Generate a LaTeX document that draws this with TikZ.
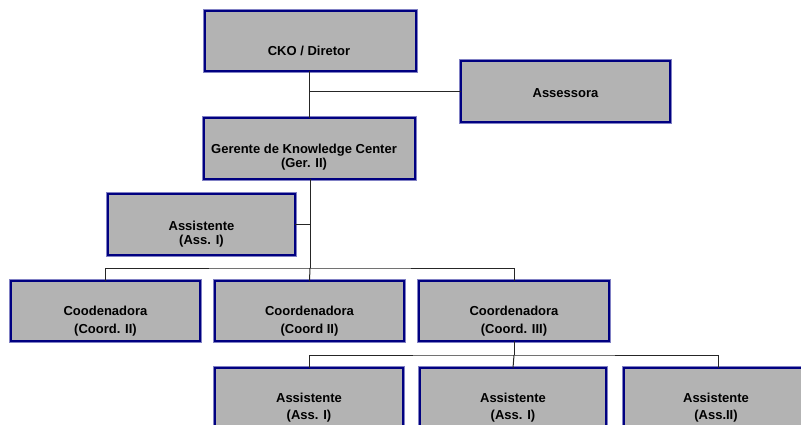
\documentclass[tikz,border=0pt]{standalone}
\usepackage{fontspec}
\setmainfont{Liberation Sans}
\definecolor{boxgray}{RGB}{179,179,179}
\definecolor{navyc}{RGB}{0,0,128}
\definecolor{lightnavy}{RGB}{128,128,196}
\begin{document}
\begin{tikzpicture}[x=1pt,y=-1pt,
  orgbox/.style={rectangle, draw=navyc, line width=1.9pt, fill=boxgray,
    preaction={draw=lightnavy, line width=4.6pt}, inner sep=0pt, outer sep=0pt},
  lbl/.style={align=center, inner sep=0pt, font=\bfseries\fontsize{13}{14}\selectfont},
  lblw/.style={align=center, inner sep=0pt, font=\bfseries\fontsize{13}{18}\selectfont},
  lblb/.style={align=center, inner sep=0pt, font=\bfseries\fontsize{13}{16.5}\selectfont},
  conn/.style={draw=black!85, line width=1pt}]
\useasboundingbox (0,0) rectangle (801,425);
% boxes: center, size (outer minus border)
\node[orgbox, minimum width=211pt, minimum height=60pt] (cko) at (310.5,41) {};
\node[orgbox, minimum width=209pt, minimum height=61pt] (ass) at (565.5,91.5) {};
\node[orgbox, minimum width=211pt, minimum height=61pt] (ger) at (309.5,148.5) {};
\node[orgbox, minimum width=187pt, minimum height=61pt] (asst) at (201.5,224.5) {};
\node[orgbox, minimum width=189pt, minimum height=60pt] (c1) at (105.5,311) {};
\node[orgbox, minimum width=189pt, minimum height=60pt] (c2) at (309.5,311) {};
\node[orgbox, minimum width=190pt, minimum height=60pt] (c3) at (514,311) {};
\node[orgbox, minimum width=188pt, minimum height=60pt] (a1) at (309,398) {};
\node[orgbox, minimum width=186pt, minimum height=60pt] (a2) at (513,398) {};
\node[orgbox, minimum width=188pt, minimum height=60pt] (a3) at (718,398) {};
% texts
\node[lbl] (tcko) at (309,51) {CKO / Diretor};
\node[lbl] (tass) at (565.5,93) {Assessora};
\node[lbl] (tger) at (304,157) {Gerente de Knowledge Center\\(Ger. II)};
\node[lbl] (tasst) at (201.5,234) {Assistente\\(Ass. I)};
\node[lblw] (tc1) at (105.5,321) {Coodenadora\\(Coord. II)};
\node[lblw] (tc2) at (309.5,321) {Coordenadora\\(Coord II)};
\node[lblw] (tc3) at (514,321) {Coordenadora\\(Coord. III)};
\node[lblb] (ta1) at (309,407.5) {Assistente\\(Ass. I)};
\node[lblb] (ta2) at (513,407.5) {Assistente\\(Ass. I)};
\node[lblb] (ta3) at (716,407.5) {Assistente\\(Ass.II)};
% connectors
\coordinate (j0) at (309,92);
\coordinate (j1) at (310,268);
\coordinate (j2) at (514,355);
\draw[conn] (cko.south -| j0) -- (ger.north -| j0);
\draw[conn] (j0) -- (j0 -| ass.west);
\draw[conn] (ger.south -| j1) -- (j1);
\draw[conn] (asst.east |- 0,224) -- (310,224);
\draw[conn] (c1.north) |- (j1) -| (c3.north);
\draw[conn] (j1) -- (c2.north);
\draw[conn] (c3.south) -- (j2);
\draw[conn] (a1.north) |- (j2) -| (a3.north);
\draw[conn] (j2) -- (a2.north);
\end{tikzpicture}
\end{document}
